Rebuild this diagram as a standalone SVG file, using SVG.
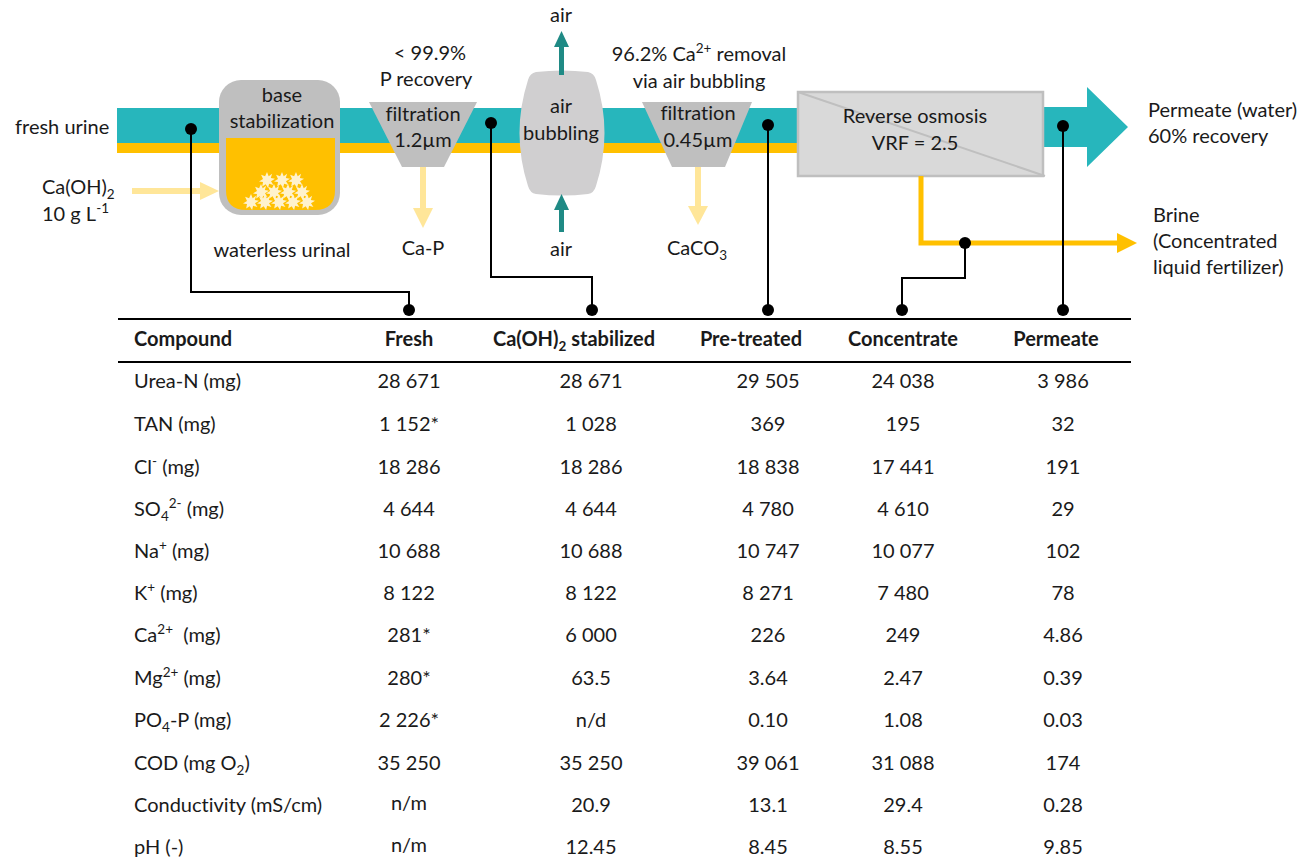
<svg xmlns="http://www.w3.org/2000/svg" width="1308" height="862" viewBox="0 0 1308 862">
  <style>
    text { font-family: Lato, "Open Sans", "Liberation Sans", sans-serif; font-size: 20px; fill: #1a1a1a; font-variant-ligatures: none; }
    .c { text-anchor: middle; }
    .b { font-weight: bold; }
    .sub { font-size: 13.5px; }
    .conn { fill: none; stroke: #000; stroke-width: 2; }
    .dot { fill: #000; }
    .lite { fill: #ffe699; }
    .air { fill: #1f8a85; }
    .grey { fill: #bfbfbf; }
    .rule { stroke: #000; stroke-width: 2.2; }
  </style>
  <defs>
    <polygon id="burst" fill="#fff2cc" points="0,-8 1.7,-3.8 5.1,-6.2 3.8,-2.1 8,-1.3 4,1.3 6.4,5.1 2.1,3.8 1.1,8 -1.3,4.3 -4.8,6.6 -4,2.1 -8,1.5 -4,-1.1 -5.9,-5.3 -1.9,-3.8"/>
  </defs>

  <!-- main stream: urine (teal) over settled phase (yellow) -->
  <g id="stream">
    <rect x="117" y="108" width="681" height="35" fill="#27b6bc"/>
    <rect x="117" y="143" width="681" height="10" fill="#ffc000"/>
    <polygon fill="#27b6bc" points="1043,107 1087,107 1087,87 1128,127 1087,167 1087,147 1043,147"/>
  </g>

  <g id="fresh-urine-label"><text x="15" y="134">fresh urine</text></g>

  <g id="caoh2-dosing">
    <text x="42" y="194">Ca(OH)<tspan class="sub" dy="5">2</tspan></text>
    <text x="42" y="221">10 g L<tspan class="sub" dy="-8">-1</tspan></text>
    <rect class="lite" x="132" y="188" width="69" height="6"/>
    <polygon class="lite" points="200,182 219,191 200,200"/>
  </g>

  <g id="base-stabilization">
    <rect class="grey" x="219" y="80" width="121" height="135" rx="22"/>
    <path d="M226 138 H335 V190 Q335 210 315 210 H246 Q226 210 226 190 Z" fill="#ffc000"/>
    <use href="#burst" x="267" y="180"/>
    <use href="#burst" x="282" y="180"/>
    <use href="#burst" x="296" y="180"/>
    <use href="#burst" x="261" y="192"/>
    <use href="#burst" x="274" y="192"/>
    <use href="#burst" x="288" y="192"/>
    <use href="#burst" x="302" y="192"/>
    <use href="#burst" x="251" y="202"/>
    <use href="#burst" x="265" y="202"/>
    <use href="#burst" x="279" y="202"/>
    <use href="#burst" x="293" y="202"/>
    <use href="#burst" x="307" y="202"/>
    <text class="c" x="282" y="102">base</text>
    <text class="c" x="282" y="128">stabilization</text>
    <text class="c" x="282" y="257">waterless urinal</text>
  </g>

  <g id="filtration-1">
    <text class="c" x="430" y="60">&lt; 99.9%</text>
    <text class="c" x="426" y="86">P recovery</text>
    <polygon class="grey" points="369,102 477,102 444,167 402,167"/>
    <text class="c" x="423" y="121">filtration</text>
    <text class="c" x="423" y="147">1.2µm</text>
    <rect class="lite" x="420" y="167" width="6" height="42"/>
    <polygon class="lite" points="413,208 433,208 423,228"/>
    <text class="c" x="423" y="255">Ca-P</text>
  </g>

  <g id="air-bubbling">
    <path d="M536 72 Q562 69 588 72 Q594 73 596 80 Q613 133 596 186 Q594 193 588 194 Q562 197 536 194 Q530 193 528 186 Q511 133 528 80 Q530 73 536 72 Z" fill="#d0cfd0"/>
    <text class="c" x="561" y="113">air</text>
    <text class="c" x="561" y="140">bubbling</text>
    <rect class="air" x="559" y="46" width="5" height="29"/>
    <polygon class="air" points="554,47 569,47 561.5,31"/>
    <text class="c" x="561" y="22">air</text>
    <rect class="air" x="559" y="209" width="5" height="23"/>
    <polygon class="air" points="554,210 569,210 561.5,194"/>
    <text class="c" x="561" y="256">air</text>
  </g>

  <g id="filtration-2">
    <text class="c" x="699" y="61">96.2% Ca<tspan class="sub" dy="-8">2+</tspan><tspan dy="8"> removal</tspan></text>
    <text class="c" x="699" y="88">via air bubbling</text>
    <polygon class="grey" points="642,102 752,102 725,167 672,167"/>
    <text class="c" x="698" y="120">filtration</text>
    <text class="c" x="698" y="147">0.45µm</text>
    <rect class="lite" x="695" y="167" width="6" height="40"/>
    <polygon class="lite" points="688,206 708,206 698,225"/>
    <text class="c" x="697" y="255">CaCO<tspan class="sub" dy="5">3</tspan></text>
  </g>

  <g id="reverse-osmosis">
    <rect x="798" y="92" width="245" height="84" fill="#d9d9d9" stroke="#bfbfbf" stroke-width="2.5"/>
    <line x1="798" y1="92" x2="1045" y2="176" stroke="#bfbfbf" stroke-width="2"/>
    <text class="c" x="915" y="123">Reverse osmosis</text>
    <text class="c" x="915" y="150">VRF = 2.5</text>
  </g>

  <g id="permeate-outlet">
    <text x="1148" y="117">Permeate (water)</text>
    <text x="1148" y="143">60% recovery</text>
  </g>

  <g id="brine-outlet">
    <path d="M921 176 V243 H1118" fill="none" stroke="#ffc000" stroke-width="5"/>
    <polygon fill="#ffc000" points="1117,233 1137,243 1117,253"/>
    <text x="1153" y="222">Brine</text>
    <text x="1153" y="248">(Concentrated</text>
    <text x="1153" y="274">liquid fertilizer)</text>
  </g>

  <!-- sampling points linked to table columns -->
  <g id="connectors">
    <path class="conn" d="M191 129 V292 H409 V310"/>
    <path class="conn" d="M491 123 V277 H592 V310"/>
    <path class="conn" d="M768 125 V310"/>
    <path class="conn" d="M965 243 V278 H902 V310"/>
    <path class="conn" d="M1063 126 V310"/>
    <circle class="dot" cx="191" cy="129" r="6"/>
    <circle class="dot" cx="409" cy="310" r="6"/>
    <circle class="dot" cx="491" cy="123" r="6"/>
    <circle class="dot" cx="592" cy="310" r="6"/>
    <circle class="dot" cx="768" cy="125" r="6"/>
    <circle class="dot" cx="768" cy="310" r="6"/>
    <circle class="dot" cx="965" cy="243" r="6"/>
    <circle class="dot" cx="902" cy="310" r="6"/>
    <circle class="dot" cx="1063" cy="126" r="6"/>
    <circle class="dot" cx="1063" cy="310" r="6"/>
  </g>

  <g id="table">
    <line class="rule" x1="118" y1="319" x2="1131" y2="319"/>
    <line class="rule" x1="118" y1="362" x2="1131" y2="362"/>
    <g class="b">
      <text class="b" x="134" y="346">Compound</text>
      <text class="b c" x="409" y="346">Fresh</text>
      <text class="b c" x="574" y="346">Ca(OH)<tspan class="sub" dy="5">2</tspan><tspan dy="-5"> stabilized</tspan></text>
      <text class="b c" x="751" y="346">Pre-treated</text>
      <text class="b c" x="903" y="346">Concentrate</text>
      <text class="b c" x="1056" y="346">Permeate</text>
    </g>
    <g id="row-labels">
      <text x="134" y="388">Urea-N (mg)</text>
      <text x="134" y="431">TAN (mg)</text>
      <text x="134" y="474">Cl<tspan class="sub" dy="-8">-</tspan><tspan dy="8"> (mg)</tspan></text>
      <text x="134" y="516">SO<tspan class="sub" dy="5">4</tspan><tspan class="sub" dy="-13">2-</tspan><tspan dy="8"> (mg)</tspan></text>
      <text x="134" y="558">Na<tspan class="sub" dy="-8">+</tspan><tspan dy="8"> (mg)</tspan></text>
      <text x="134" y="600">K<tspan class="sub" dy="-8">+</tspan><tspan dy="8"> (mg)</tspan></text>
      <text x="134" y="642">Ca<tspan class="sub" dy="-8">2+</tspan><tspan dy="8">&#160; (mg)</tspan></text>
      <text x="134" y="685">Mg<tspan class="sub" dy="-8">2+</tspan><tspan dy="8"> (mg)</tspan></text>
      <text x="134" y="727">PO<tspan class="sub" dy="5">4</tspan><tspan dy="-5">-P (mg)</tspan></text>
      <text x="134" y="770">COD (mg O<tspan class="sub" dy="5">2</tspan><tspan dy="-5">)</tspan></text>
      <text x="134" y="812">Conductivity (mS/cm)</text>
      <text x="134" y="854">pH (-)</text>
    </g>
    <g id="col-fresh">
      <text class="c" x="409" y="388">28 671</text>
      <text class="c" x="409" y="431">1 152*</text>
      <text class="c" x="409" y="474">18 286</text>
      <text class="c" x="409" y="516">4 644</text>
      <text class="c" x="409" y="558">10 688</text>
      <text class="c" x="409" y="600">8 122</text>
      <text class="c" x="409" y="642">281*</text>
      <text class="c" x="409" y="685">280*</text>
      <text class="c" x="409" y="727">2 226*</text>
      <text class="c" x="409" y="770">35 250</text>
      <text class="c" x="409" y="810">n/m</text>
      <text class="c" x="409" y="852">n/m</text>
    </g>
    <g id="col-stabilized">
      <text class="c" x="591" y="388">28 671</text>
      <text class="c" x="591" y="431">1 028</text>
      <text class="c" x="591" y="474">18 286</text>
      <text class="c" x="591" y="516">4 644</text>
      <text class="c" x="591" y="558">10 688</text>
      <text class="c" x="591" y="600">8 122</text>
      <text class="c" x="591" y="642">6 000</text>
      <text class="c" x="591" y="685">63.5</text>
      <text class="c" x="591" y="727">n/d</text>
      <text class="c" x="591" y="770">35 250</text>
      <text class="c" x="591" y="812">20.9</text>
      <text class="c" x="591" y="854">12.45</text>
    </g>
    <g id="col-pretreated">
      <text class="c" x="768" y="388">29 505</text>
      <text class="c" x="768" y="431">369</text>
      <text class="c" x="768" y="474">18 838</text>
      <text class="c" x="768" y="516">4 780</text>
      <text class="c" x="768" y="558">10 747</text>
      <text class="c" x="768" y="600">8 271</text>
      <text class="c" x="768" y="642">226</text>
      <text class="c" x="768" y="685">3.64</text>
      <text class="c" x="768" y="727">0.10</text>
      <text class="c" x="768" y="770">39 061</text>
      <text class="c" x="768" y="812">13.1</text>
      <text class="c" x="768" y="854">8.45</text>
    </g>
    <g id="col-concentrate">
      <text class="c" x="903" y="388">24 038</text>
      <text class="c" x="903" y="431">195</text>
      <text class="c" x="903" y="474">17 441</text>
      <text class="c" x="903" y="516">4 610</text>
      <text class="c" x="903" y="558">10 077</text>
      <text class="c" x="903" y="600">7 480</text>
      <text class="c" x="903" y="642">249</text>
      <text class="c" x="903" y="685">2.47</text>
      <text class="c" x="903" y="727">1.08</text>
      <text class="c" x="903" y="770">31 088</text>
      <text class="c" x="903" y="812">29.4</text>
      <text class="c" x="903" y="854">8.55</text>
    </g>
    <g id="col-permeate">
      <text class="c" x="1063" y="388">3 986</text>
      <text class="c" x="1063" y="431">32</text>
      <text class="c" x="1063" y="474">191</text>
      <text class="c" x="1063" y="516">29</text>
      <text class="c" x="1063" y="558">102</text>
      <text class="c" x="1063" y="600">78</text>
      <text class="c" x="1063" y="642">4.86</text>
      <text class="c" x="1063" y="685">0.39</text>
      <text class="c" x="1063" y="727">0.03</text>
      <text class="c" x="1063" y="770">174</text>
      <text class="c" x="1063" y="812">0.28</text>
      <text class="c" x="1063" y="854">9.85</text>
    </g>
  </g>
</svg>
